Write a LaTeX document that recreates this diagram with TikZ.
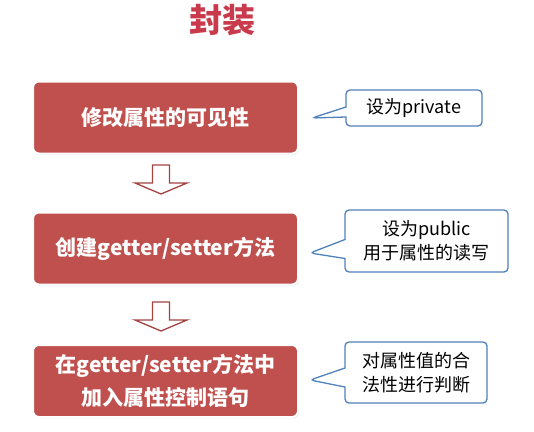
\documentclass[tikz,border=0pt]{standalone}
\usepackage{fontspec}
\setmainfont{Noto Sans CJK SC}
\usepackage{tikz}
\usetikzlibrary{calc, shapes.callouts, shadows}
\definecolor{boxred}{HTML}{C0504D}
\definecolor{titlered}{HTML}{C93A4C}
\definecolor{noteblue}{HTML}{4F81BD}

\begin{document}
\begin{tikzpicture}[
  x=1pt, y=-1pt,
  stepbox/.style={draw=white, line width=2pt, fill=boxred, rounded corners=6pt,
                  minimum width=265pt, minimum height=72pt, align=center,
                  text=white, font=\bfseries\fontsize{21}{33}\selectfont,
                  drop shadow={opacity=0.3, shadow xshift=0.8pt, shadow yshift=-1.2pt}},
  note/.style={rectangle callout, draw=noteblue, line width=1.3pt, fill=white,
               rounded corners=4pt, align=center, inner sep=0pt,
               font=\fontsize{18}{24}\selectfont},
  downarr/.style={draw=boxred!85!black, line width=1.3pt, fill=white},
]
  \useasboundingbox (0,0) rectangle (534,431);

  \node[text=titlered, font=\bfseries\fontsize{33}{33}\selectfont] (title) at (222, 20) {封装};

  \node[stepbox] (vis) at (165.5, 117.5) {修改属性的可见性};
  \node[stepbox] (acc) at (165.5, 248.5) {创建getter/setter方法};
  \node[stepbox] (ctrl) at (165.5, 381) {在getter/setter方法中\\加入属性控制语句};

  % hollow arrows between the steps
  \coordinate (a1) at (161, 165);
  \coordinate (a2) at (161, 302);
  \foreach \a in {a1, a2}
    \draw[downarr] ($(\a)+(-8.5,0)$) -- ++(17,0) -- ++(0,18) -- ++(17.5,0)
      -- ($(\a)+(0,29)$) -- ($(\a)+(-26,18)$) -- ++(17.5,0) -- cycle;

  % notes
  \node[note, minimum width=136pt, minimum height=36pt, callout pointer width=10pt,
        callout absolute pointer={($(vis.east)+(13,0.5)$)}] (priv) at (414, 108) {设为private};
  \node[note, minimum width=163pt, minimum height=62pt, callout pointer width=19pt,
        callout absolute pointer={($(acc.east)+(11,4.5)$)}] (pub) at (426.5, 241)
        {设为public\\用于属性的读写};
  \node[note, minimum width=142pt, minimum height=61pt, callout pointer width=19pt,
        callout absolute pointer={($(ctrl.east)+(11,-1)$)}] (chk) at (416, 372.5)
        {对属性值的合\\法性进行判断};
\end{tikzpicture}
\end{document}
